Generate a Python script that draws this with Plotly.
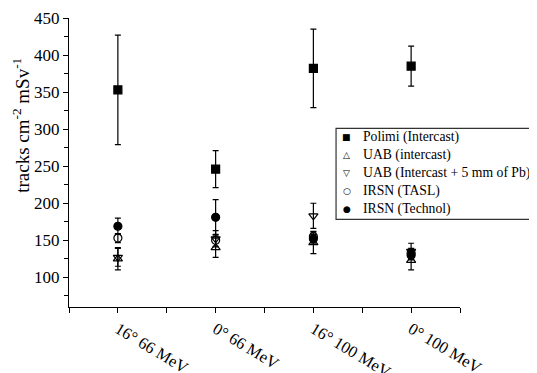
import plotly.graph_objects as go

categories = ["16° 66 MeV", "0° 66 MeV", "16° 100 MeV", "0° 100 MeV"]
polimi = [353, 246, 382, 385]
polimi_err = [74, 25, 53, 27]
uab = [125, 140, 147, 123]
uab_err = [15, 13, 15, 13]
uab_pb = [127, 152, 183, 135]
uab_pb_err = [12, 11, 17, 11]
tasl = [153, 150, 155, 133]
tasl_err = [6, 8, 6, 6]
technol = [169, 181, 152, 130]
technol_err = [11, 24, 6, 6]

series = [
    ("Polimi (Intercast)", polimi, polimi_err, "square", "■"),
    ("UAB (intercast)", uab, uab_err, "triangle-up-open", "△"),
    ("UAB (Intercast + 5 mm of Pb)", uab_pb, uab_pb_err, "triangle-down-open", "▽"),
    ("IRSN (TASL)", tasl, tasl_err, "circle-open", "○"),
    ("IRSN (Technol)", technol, technol_err, "circle", "●"),
]

xidx = list(range(len(categories)))
fig = go.Figure()
for name, vals, errs, sym, glyph in series:
    fig.add_trace(go.Scatter(
        x=xidx, y=vals, name=name, mode="markers", showlegend=False,
        marker=dict(symbol=sym, size=8, color="black", line=dict(color="black", width=1.2)),
        error_y=dict(type="data", array=errs, visible=True, color="black", thickness=1.2, width=3),
    ))

font = "Liberation Serif"
fig.update_layout(
    width=529, height=365,
    margin=dict(l=61, r=77, t=10, b=66, autoexpand=False),
    paper_bgcolor="white", plot_bgcolor="white",
    font=dict(family=font, color="black", size=16),
    showlegend=False,
    xaxis=dict(range=[-0.5, 3.5], tickvals=xidx, ticktext=categories,
               tickangle=31, showgrid=False, zeroline=False, automargin=False,
               showline=True, linecolor="black", linewidth=1.2,
               ticks="outside", ticklen=5, tickcolor="black",
               minor=dict(tickvals=[-0.5, 0.5, 1.5, 2.5, 3.5], ticks="outside", ticklen=5, tickcolor="black"),
               tickfont=dict(size=16.5, family=font)),
    yaxis=dict(range=[60, 450], tick0=0, dtick=50, showgrid=False, zeroline=False, automargin=False,
               showline=True, linecolor="black", linewidth=1.2,
               ticks="outside", ticklen=5, tickcolor="black",
               minor=dict(dtick=25, ticks="outside", ticklen=4, tickcolor="black"),
               tickfont=dict(size=17, family=font)),
)
fig.add_annotation(text="tracks cm<sup>-2</sup> mSv<sup>-1</sup>", textangle=-90,
                   xref="paper", yref="paper", x=-0.123, y=0.63, xanchor="center", yanchor="middle",
                   showarrow=False, font=dict(size=19, family=font))

# manual legend
lx0, lx1, ly0, ly1 = 0.683, 1.195, 0.303, 0.618
sym_x, text_x = 0.71, 0.748
row_y0, row_dy = 0.589, 0.0626
fig.add_shape(type="rect", xref="paper", yref="paper", x0=lx0, x1=lx1, y0=ly0, y1=ly1,
              line=dict(color="#333", width=1.2), fillcolor="white", layer="above")
for i, (name, vals, errs, sym, glyph) in enumerate(series):
    yy = row_y0 - i * row_dy
    fig.add_annotation(text=glyph, xref="paper", yref="paper", x=sym_x, y=yy,
                       xanchor="center", yanchor="middle", showarrow=False,
                       font=dict(size=9, family="DejaVu Sans", color="black"))
    fig.add_annotation(text=name, xref="paper", yref="paper", x=text_x, y=yy,
                       xanchor="left", yanchor="middle", showarrow=False,
                       font=dict(size=13.7, family=font, color="black"))
fig.write_html("out.html")
